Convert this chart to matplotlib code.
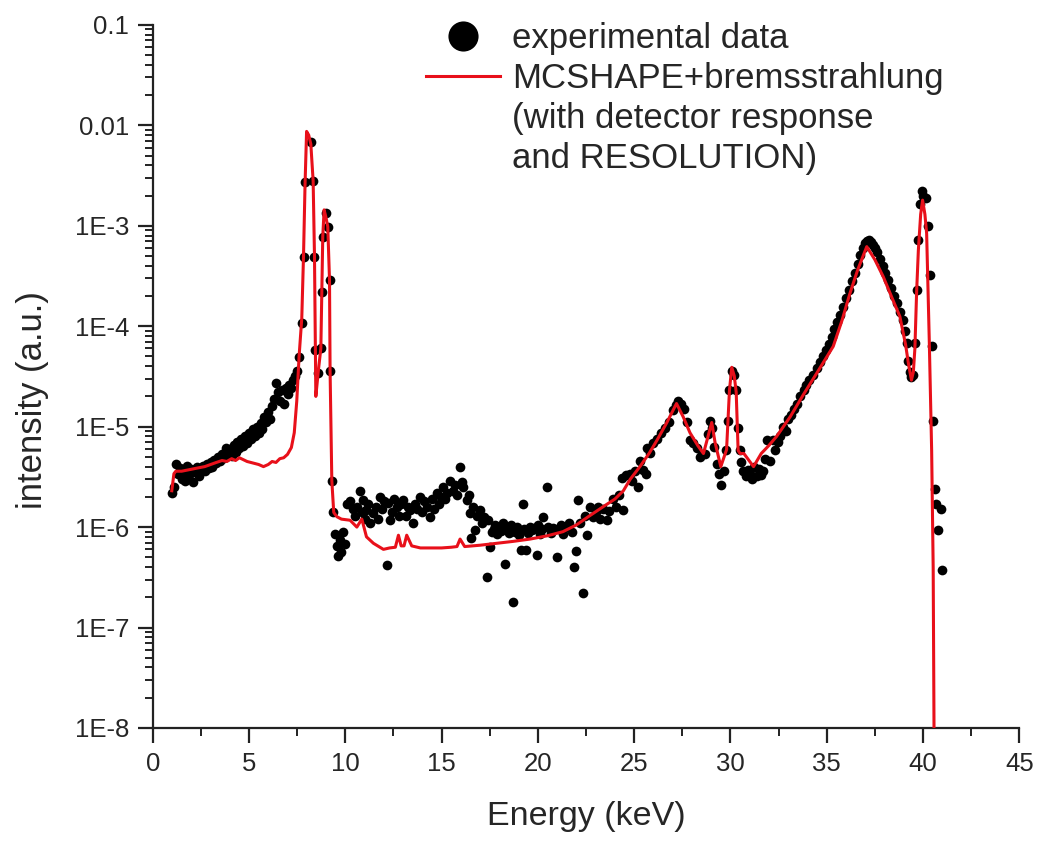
import matplotlib
matplotlib.use("Agg")
import matplotlib.pyplot as plt
from matplotlib.lines import Line2D

plt.rcParams['font.family'] = ['Liberation Sans', 'DejaVu Sans']

# experimental spectrum (keV, a.u.)
exp_energy = [
    1.0, 1.1, 1.2, 1.3, 1.4, 1.5, 1.6, 1.7, 1.8, 1.9, 2.0, 2.1, 2.2, 2.3, 2.4,
    2.5, 2.6, 2.7, 2.8, 2.9, 3.0, 3.1, 3.2, 3.3, 3.4, 3.5, 3.6, 3.7, 3.8, 3.9,
    4.0, 4.1, 4.2, 4.3, 4.4, 4.5, 4.6, 4.7, 4.8, 4.9, 5.0, 5.1, 5.2, 5.3, 5.4,
    5.5, 5.6, 5.7, 5.8, 5.9, 6.0, 6.1, 6.2, 6.3, 6.4, 6.5, 6.6, 6.7, 6.8, 6.9,
    7.0, 7.1, 7.2, 7.3, 7.4, 7.5, 7.62, 7.74, 7.83, 7.91, 8.2, 8.33, 8.40, 8.45,
    8.6, 8.73, 8.78, 8.83, 8.99, 9.09, 9.18, 9.21, 9.3, 9.35,
    9.45, 9.55, 9.6, 9.7, 9.8, 9.9, 10.0, 10.1, 10.25, 10.4, 10.5, 10.6, 10.77,
    10.85, 10.94, 11.0, 11.1, 11.2, 11.3, 11.46, 11.6, 11.7, 11.8, 11.9, 12.0,
    12.15, 12.2, 12.33, 12.45, 12.55, 12.67, 12.8, 12.9, 13.02, 13.15, 13.25,
    13.36, 13.5, 13.6, 13.7, 13.88, 14.0, 14.1, 14.23, 14.4, 14.5, 14.6, 14.75,
    14.85, 14.95, 15.09, 15.2, 15.3, 15.44, 15.6, 15.7, 15.8, 15.96, 16.05,
    16.13, 16.3, 16.4, 16.48, 16.55, 16.65, 16.74, 16.85, 17.0, 17.1, 17.2,
    17.35, 17.4, 17.5, 17.6, 17.7, 17.8, 17.9, 18.0, 18.1, 18.2, 18.3, 18.4,
    18.5, 18.6, 18.73, 18.8, 18.9, 19.0, 19.1, 19.25, 19.3, 19.4, 19.5, 19.6,
    19.7, 19.8, 19.94, 20.0, 20.1, 20.2, 20.29, 20.46, 20.55, 20.7, 20.8, 20.98,
    21.1, 21.2, 21.3, 21.45, 21.6, 21.75, 21.9, 22.0, 22.1, 22.2, 22.36, 22.45,
    22.54, 22.7, 22.85, 23.0, 23.1, 23.25, 23.4, 23.58, 23.7, 23.9, 24.05, 24.2,
    24.36, 24.44, 24.6, 24.8, 24.9, 25.05, 25.2, 25.3, 25.45, 25.6, 25.65, 25.8,
    26.0, 26.2, 26.4, 26.6, 26.8, 27.0, 27.15, 27.3, 27.45, 27.6, 27.75, 27.9,
    28.05, 28.25, 28.42, 28.55, 28.7, 28.85, 28.94, 29.05, 29.15, 29.29, 29.4,
    29.52, 29.65, 29.75, 29.85, 29.95, 30.1, 30.2, 30.3, 30.4, 30.48, 30.55,
    30.67, 30.8, 30.9, 31.0, 31.1, 31.2, 31.36, 31.5, 31.6, 31.7, 31.8, 31.9,
    32.05, 32.2, 32.3, 32.45, 32.6, 32.75, 32.9, 33.0, 33.15, 33.3, 33.45, 33.6,
    33.8, 33.95, 34.1, 34.3, 34.5, 34.65, 34.8, 34.95, 35.1, 35.25, 35.4, 35.55,
    35.7, 35.86, 36.0, 36.15, 36.3, 36.45, 36.6, 36.75, 36.9, 37.0, 37.1, 37.2,
    37.3, 37.4, 37.5, 37.6, 37.75, 37.9, 38.05, 38.2, 38.35, 38.5, 38.65, 38.8,
    38.95, 39.05, 39.15, 39.24, 39.32, 39.4, 39.48, 39.58, 39.67, 39.72, 39.84,
    39.95, 40.02, 40.15, 40.27, 40.36, 40.47, 40.53, 40.62, 40.7, 40.8, 40.96,
    40.97,
]
exp_intensity = [
    2.2e-6, 2.5e-6, 4.2e-6, 3.4e-6, 3.9e-6, 3.0e-6, 3.6e-6, 2.9e-6, 4.1e-6,
    3.3e-6, 3.8e-6, 2.8e-6, 3.5e-6, 4.0e-6, 3.2e-6, 3.7e-6, 4.1e-6, 3.6e-6,
    4.2e-6, 3.9e-6, 4.4e-6, 4.0e-6, 4.7e-6, 4.3e-6, 5.0e-6, 4.6e-6, 5.4e-6,
    4.9e-6, 6.2e-6, 5.3e-6, 6.0e-6, 5.1e-6, 6.6e-6, 5.6e-6, 7.0e-6, 6.1e-6,
    7.6e-6, 6.4e-6, 8.0e-6, 6.9e-6, 8.7e-6, 7.5e-6, 9.4e-6, 8.0e-6, 1.0e-5,
    8.6e-6, 1.08e-5, 9.5e-6, 1.25e-5, 1.1e-5, 1.4e-5, 1.2e-5, 1.6e-5, 1.9e-5,
    2.7e-5, 2.2e-5, 1.8e-5, 2.3e-5, 1.7e-5, 2.4e-5, 2.1e-5, 2.6e-5, 2.4e-5,
    2.9e-5, 3.2e-5, 3.6e-5, 4.9e-5, 1.07e-4, 4.9e-4, 2.7e-3, 6.9e-3, 2.8e-3,
    4.9e-4, 5.8e-5, 3.4e-5, 6.0e-5, 2.2e-4, 7.8e-4, 1.35e-3, 9.8e-4, 2.9e-4,
    3.6e-5, 2.9e-6, 1.4e-6,
    8.5e-7, 6.5e-7, 5.2e-7, 7.5e-7, 5.6e-7, 9.0e-7, 6.8e-7, 1.7e-6, 1.8e-6,
    1.5e-6, 1.3e-6, 1.6e-6, 2.3e-6, 1.4e-6, 1.86e-6, 1.2e-6, 1.48e-6, 1.7e-6,
    1.1e-6, 1.38e-6, 1.6e-6, 1.2e-6, 2.0e-6, 1.5e-6, 1.8e-6, 4.2e-7, 1.73e-6,
    1.17e-6, 1.4e-6, 1.9e-6, 1.6e-6, 1.3e-6, 1.7e-6, 1.86e-6, 1.3e-6, 1.6e-6,
    1.48e-6, 1.1e-6, 1.7e-6, 1.5e-6, 2.0e-6, 1.4e-6, 1.8e-6, 1.6e-6, 1.27e-6,
    1.9e-6, 1.5e-6, 2.2e-6, 1.7e-6, 2.0e-6, 2.5e-6, 1.9e-6, 2.2e-6, 2.9e-6,
    2.3e-6, 2.6e-6, 2.1e-6, 4.0e-6, 2.8e-6, 2.5e-6, 1.86e-6, 2.1e-6, 1.38e-6,
    7.8e-7, 1.6e-6, 9.3e-7, 1.3e-6, 1.48e-6, 1.1e-6, 1.25e-6, 3.2e-7, 1.17e-6,
    6.3e-7, 9.0e-7, 9.6e-7, 1.05e-6, 8.5e-7, 1.0e-6, 9.2e-7, 1.1e-6, 4.3e-7,
    9.5e-7, 8.8e-7, 1.05e-6, 1.8e-7, 9.0e-7, 1.0e-6, 8.3e-7, 5.9e-7, 1.7e-6,
    9.5e-7, 5.9e-7, 8.8e-7, 1.0e-6, 9.3e-7, 9.8e-7, 5.3e-7, 1.05e-6, 8.5e-7,
    9.5e-7, 1.27e-6, 2.5e-6, 1.0e-6, 8.8e-7, 9.8e-7, 5.0e-7, 9.5e-7, 1.05e-6,
    8.5e-7, 1.0e-6, 1.1e-6, 9.0e-7, 4.0e-7, 5.8e-7, 1.86e-6, 1.1e-6, 2.2e-7,
    1.3e-6, 8.3e-7, 1.6e-6, 1.25e-6, 1.4e-6, 1.6e-6, 1.2e-6, 1.5e-6, 1.17e-6,
    1.45e-6, 1.9e-6, 1.6e-6, 2.1e-6, 3.1e-6, 1.48e-6, 3.3e-6, 3.4e-6, 2.9e-6,
    3.6e-6, 2.5e-6, 4.6e-6, 3.7e-6, 3.4e-6, 6.2e-6, 5.5e-6, 6.9e-6, 7.6e-6,
    8.7e-6, 9.8e-6, 1.1e-5, 1.48e-5, 1.65e-5, 1.8e-5, 1.7e-5, 1.5e-5, 1.1e-5,
    7.4e-6, 6.8e-6, 6.2e-6, 5.0e-6, 5.3e-6, 5.4e-6, 8.5e-6, 1.15e-5, 9.8e-6,
    6.3e-6, 4.2e-6, 3.4e-6, 2.6e-6, 3.6e-6, 5.8e-6, 1.15e-5, 2.3e-5, 3.6e-5,
    3.3e-5, 2.3e-5, 9.8e-6, 5.8e-6, 4.4e-6, 3.6e-6, 3.2e-6, 3.7e-6, 3.4e-6,
    3.0e-6, 4.0e-6, 3.2e-6, 3.8e-6, 3.3e-6, 3.6e-6, 4.8e-6, 7.4e-6, 4.6e-6,
    7.4e-6, 5.8e-6, 7.0e-6, 8.0e-6, 1.0e-5, 9.0e-6, 1.2e-5, 1.3e-5, 1.5e-5,
    1.7e-5, 2.0e-5, 2.3e-5, 2.6e-5, 2.9e-5, 3.3e-5, 3.8e-5, 4.4e-5, 5.0e-5,
    5.8e-5, 6.6e-5, 7.8e-5, 9.3e-5, 1.1e-4, 1.3e-4, 1.56e-4, 1.9e-4, 2.3e-4,
    2.8e-4, 3.4e-4, 4.2e-4, 5.1e-4, 6.0e-4, 6.7e-4, 7.1e-4, 7.2e-4, 6.9e-4,
    6.5e-4, 6.0e-4, 5.5e-4, 4.7e-4, 4.0e-4, 3.4e-4, 2.9e-4, 2.4e-4, 2.0e-4,
    1.7e-4, 1.4e-4, 1.15e-4, 9.0e-5, 6.8e-5, 4.5e-5, 3.5e-5, 3.1e-5, 3.3e-5,
    6.8e-5, 2.3e-4, 7.2e-4, 1.66e-3, 2.2e-3, 2.0e-3, 1.9e-3, 9.9e-4, 3.2e-4,
    6.4e-5, 1.15e-5, 2.4e-6, 1.7e-6, 9.4e-7, 1.5e-6, 3.7e-7,
]

# MCSHAPE + bremsstrahlung simulation
sim_energy = [
    0.99, 1.1, 1.2, 1.5, 1.8, 2.1, 2.4, 2.7, 3.0, 3.3, 3.6, 3.85, 4.1, 4.3,
    4.5, 4.7, 4.9, 5.1, 5.3, 5.5, 5.75, 6.0, 6.2, 6.4, 6.6, 6.8, 7.0, 7.2,
    7.35, 7.48, 7.6, 7.74, 7.83, 7.91, 7.99, 8.1, 8.21, 8.33, 8.4, 8.47, 8.6,
    8.73, 8.78, 8.83, 8.9, 9.0, 9.09, 9.18, 9.21, 9.3, 9.4, 9.56, 9.8, 10.25,
    10.6, 10.86, 11.1, 11.46, 11.98, 12.3, 12.6, 12.76, 12.9, 13.05, 13.19,
    13.45, 13.9, 14.5, 15.0, 15.5, 15.8, 15.96, 16.2, 17.0, 17.87, 18.7, 19.6,
    20.5, 21.3, 22.0, 22.7, 23.4, 24.0, 24.44, 24.8, 25.3, 25.8, 26.2, 26.7,
    27.2, 27.55, 27.9, 28.3, 28.6, 28.8, 29.03, 29.2, 29.5, 29.8, 29.95, 30.07,
    30.2, 30.3, 30.4, 30.5, 30.7, 31.0, 31.2, 31.6, 32.0, 32.4, 32.75, 33.1,
    33.8, 34.48, 35.34, 35.8, 36.2, 36.6, 37.08, 37.5, 37.94, 38.4, 38.8, 39.1,
    39.24, 39.4, 39.5, 39.58, 39.67, 39.76, 39.88, 39.98, 40.1, 40.19, 40.33,
    40.45, 40.53, 40.6,
]
sim_intensity = [
    2.3e-6, 3.4e-6, 3.6e-6, 3.6e-6, 3.7e-6, 3.8e-6, 3.9e-6, 4.0e-6, 4.2e-6,
    4.4e-6, 4.6e-6, 4.5e-6, 4.8e-6, 4.6e-6, 4.9e-6, 4.7e-6, 4.5e-6, 4.4e-6,
    4.3e-6, 4.2e-6, 4.0e-6, 4.2e-6, 4.5e-6, 4.4e-6, 4.8e-6, 4.9e-6, 5.3e-6,
    6.2e-6, 8.7e-6, 1.8e-5, 5.0e-5, 1.2e-4, 5.0e-4, 2.6e-3, 8.7e-3, 8.0e-3,
    6.5e-3, 2.8e-3, 5.0e-4, 2.0e-5, 3.6e-5, 6.0e-5, 2.2e-4, 7.8e-4, 1.44e-3,
    1.2e-3, 9.8e-4, 2.9e-4, 3.6e-5, 2.9e-6, 1.4e-6, 1.27e-6, 1.2e-6, 1.17e-6,
    1.0e-6, 1.2e-6, 8.0e-7, 6.9e-7, 6.0e-7, 6.2e-7, 6.3e-7, 8.3e-7, 6.5e-7,
    6.5e-7, 8.3e-7, 6.5e-7, 6.2e-7, 6.2e-7, 6.2e-7, 6.3e-7, 6.4e-7, 7.6e-7,
    6.4e-7, 6.6e-7, 6.9e-7, 7.2e-7, 7.6e-7, 8.2e-7, 9.0e-7, 1.05e-6, 1.3e-6,
    1.6e-6, 1.9e-6, 2.3e-6, 3.0e-6, 4.0e-6, 5.5e-6, 7.4e-6, 1.1e-5, 1.7e-5,
    1.25e-5, 8.7e-6, 6.5e-6, 5.4e-6, 7.5e-6, 1.1e-5, 7.0e-6, 4.0e-6, 5.9e-6,
    2.3e-5, 3.9e-5, 3.2e-5, 2.2e-5, 5.8e-6, 5.4e-6, 5.4e-6, 4.5e-6, 4.0e-6,
    5.4e-6, 6.5e-6, 8.0e-6, 1.0e-5, 1.25e-5, 2.1e-5, 3.4e-5, 6.3e-5, 1.15e-4,
    2.1e-4, 3.6e-4, 6.2e-4, 4.6e-4, 3.1e-4, 1.9e-4, 1.25e-4, 6.5e-5, 4.3e-5,
    2.9e-5, 3.5e-5, 6.0e-5, 2.2e-4, 5.7e-4, 1.3e-3, 1.8e-3, 1.3e-3, 8.4e-4,
    6.8e-5, 5.8e-6, 3.9e-7, 1e-9,
]

y_ticks = [1e-8, 1e-7, 1e-6, 1e-5, 1e-4, 1e-3, 1e-2, 1e-1]
y_labels = ["1E-8", "1E-7", "1E-6", "1E-5", "1E-4", "1E-3", "0.01", "0.1"]

text_color = "#262626"
red = "#e8101a"

fig = plt.figure(figsize=(10.39, 8.41), dpi=100)
ax = fig.add_axes([0.147, 0.1344, 0.834, 0.836])

dots, = ax.plot(exp_energy, exp_intensity, "o", color="black", markersize=7,
                markeredgewidth=0, zorder=2)
curve, = ax.plot(sim_energy, sim_intensity, "-", color=red, linewidth=2.2,
                 zorder=3)

ax.set_yscale("log")
ax.set_xlim(0, 45)
ax.set_ylim(1e-8, 0.1)
ax.set_xticks(range(0, 46, 5))
ax.set_xticks([2.5 + 5 * i for i in range(9)], minor=True)
ax.set_yticks(y_ticks)
ax.set_yticklabels(y_labels)

for side in ["top", "right"]:
    ax.spines[side].set_visible(False)
for side in ["left", "bottom"]:
    ax.spines[side].set_linewidth(1.6)
    ax.spines[side].set_color("#222222")

ax.tick_params(which="major", direction="out", length=11, width=1.6,
               labelsize=18.5, colors="#222222", labelcolor=text_color, pad=6)
ax.tick_params(which="minor", direction="out", length=5.5, width=1.4,
               colors="#222222")

ax.set_xlabel("Energy (keV)", fontsize=24.5, color=text_color)
ax.set_ylabel("intensity (a.u.)", fontsize=25, color=text_color)
ax.xaxis.set_label_coords(0.5, -0.104)
ax.yaxis.set_label_coords(-0.12, 0.467)

# legend: second label spans three lines, handle sits on the first
blank = Line2D([], [], linestyle="none")
ax.legend([dots, curve, blank, blank],
          ["experimental data", "MCSHAPE+bremsstrahlung",
           "(with detector response", "and RESOLUTION)"],
          loc="upper left", bbox_to_anchor=(0.3156, 1.004), frameon=False,
          fontsize=25, markerscale=3.1, handlelength=2.13,
          handletextpad=0.35, labelspacing=0.2, borderpad=0,
          borderaxespad=0, labelcolor=text_color)

fig.savefig("out.png", dpi=100)
